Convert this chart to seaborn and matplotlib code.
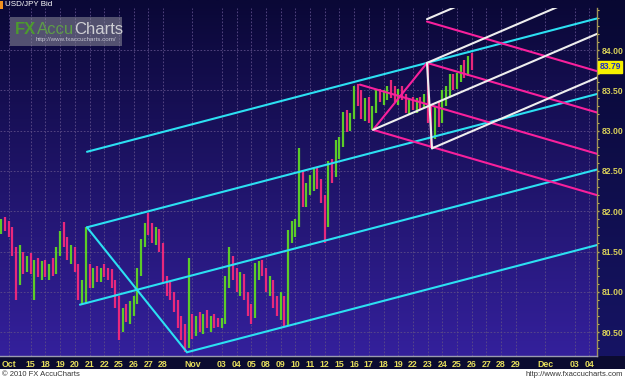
import numpy as np
import pandas as pd
import matplotlib
matplotlib.use("Agg")
import matplotlib.pyplot as plt
from matplotlib.patches import Rectangle
from matplotlib.ticker import MultipleLocator
import seaborn as sns

# ---------------- data ----------------
# 6-hour OHLC bars, first bar at day index -1 (Oct 13), 4 bars per trading day
bar_start_day = -1.0
bars_per_day = 4
opens = [81.80, 81.85, 81.78, 81.72, 81.50, 81.10, 81.38, 81.30, 81.40, 81.28,
         81.35, 81.25, 81.32, 81.22, 81.30, 81.25, 81.50, 81.70, 81.60, 81.45,
         81.52, 81.30, 81.00, 81.10, 81.30, 81.12, 81.25, 81.18, 81.28, 81.22,
         81.20, 81.10, 80.85, 80.55, 80.72, 80.68, 80.82, 80.90, 81.25, 81.60,
         81.80, 81.75, 81.65, 81.72, 81.55, 81.15, 81.05, 80.95, 80.80, 80.60,
         80.50, 80.35, 80.60, 80.50, 80.65, 80.55, 80.68, 80.60, 80.65, 80.62,
         80.60, 80.64, 81.10, 81.40, 81.20, 81.05, 81.15, 80.95, 80.75, 80.70,
         81.25, 81.30, 81.25, 81.05, 81.10, 80.85, 80.75, 80.90, 80.62, 81.65,
         81.78, 81.85, 82.45, 82.15, 82.30, 82.38, 82.45, 82.32, 82.15, 81.85,
         82.55, 82.45, 82.80, 82.85, 83.15, 83.05, 83.18, 83.45, 83.35, 83.22,
         83.35, 83.15, 83.25, 83.42, 83.40, 83.45, 83.50, 83.45, 83.40, 83.48,
         83.42, 83.28, 83.35, 83.30, 83.36, 83.32, 83.40, 83.20, 82.95, 83.20,
         83.15, 83.42, 83.48, 83.62, 83.58, 83.68, 83.75, 83.70, 83.85]
highs = [81.90, 81.93, 81.88, 81.80, 81.55, 81.58, 81.50, 81.45, 81.48, 81.40,
         81.42, 81.38, 81.40, 81.35, 81.42, 81.55, 81.75, 81.87, 81.68, 81.58,
         81.55, 81.35, 81.15, 81.80, 81.35, 81.30, 81.32, 81.30, 81.35, 81.30,
         81.28, 81.15, 80.95, 80.80, 80.85, 80.88, 80.95, 81.30, 81.65, 81.85,
         81.98, 81.85, 81.80, 81.78, 81.60, 81.20, 81.12, 81.00, 80.90, 80.70,
         80.60, 81.42, 80.72, 80.70, 80.75, 80.72, 80.78, 80.70, 80.72, 80.68,
         80.68, 81.20, 81.56, 81.45, 81.30, 81.25, 81.22, 81.00, 80.85, 81.36,
         81.38, 81.40, 81.30, 81.20, 81.15, 80.95, 81.00, 80.95, 81.77, 81.88,
         81.90, 82.78, 82.50, 82.35, 82.45, 82.52, 82.55, 82.40, 82.20, 82.62,
         82.65, 82.88, 82.92, 83.23, 83.25, 83.22, 83.55, 83.58, 83.50, 83.40,
         83.42, 83.30, 83.50, 83.52, 83.50, 83.55, 83.63, 83.55, 83.52, 83.55,
         83.45, 83.40, 83.42, 83.40, 83.42, 83.45, 83.84, 83.30, 83.30, 83.35,
         83.50, 83.55, 83.70, 83.70, 83.72, 83.82, 83.88, 83.92, 83.96]
lows = [81.72, 81.75, 81.68, 81.45, 80.90, 81.08, 81.22, 81.25, 81.22, 80.90,
        81.18, 81.15, 81.18, 81.15, 81.20, 81.22, 81.45, 81.55, 81.40, 81.35,
        81.25, 80.90, 80.84, 80.85, 81.05, 81.05, 81.12, 81.12, 81.18, 81.15,
        81.05, 80.80, 80.40, 80.50, 80.62, 80.60, 80.70, 80.85, 81.20, 81.55,
        81.70, 81.60, 81.58, 81.50, 81.10, 80.95, 80.90, 80.75, 80.55, 80.40,
        80.25, 80.30, 80.42, 80.45, 80.50, 80.48, 80.55, 80.50, 80.55, 80.56,
        80.55, 80.60, 81.05, 81.15, 81.00, 80.95, 80.90, 80.70, 80.60, 80.68,
        81.15, 81.20, 81.00, 80.95, 80.80, 80.70, 80.65, 80.56, 80.58, 81.60,
        81.68, 81.80, 82.05, 82.05, 82.20, 82.25, 82.28, 82.10, 81.61, 81.80,
        82.35, 82.42, 82.65, 82.80, 82.98, 83.00, 83.15, 83.30, 83.15, 83.12,
        83.10, 83.01, 83.22, 83.35, 83.32, 83.38, 83.40, 83.35, 83.32, 83.38,
        83.22, 83.20, 83.25, 83.22, 83.25, 83.28, 83.10, 82.78, 82.90, 83.05,
        83.10, 83.30, 83.42, 83.50, 83.52, 83.60, 83.65, 83.68, 83.75]
closes = [81.85, 81.78, 81.72, 81.50, 81.10, 81.38, 81.30, 81.40, 81.28, 81.35,
          81.25, 81.32, 81.22, 81.30, 81.25, 81.50, 81.70, 81.60, 81.45, 81.52,
          81.30, 81.00, 81.10, 81.30, 81.12, 81.25, 81.18, 81.28, 81.22, 81.20,
          81.10, 80.85, 80.55, 80.72, 80.68, 80.82, 80.90, 81.25, 81.60, 81.80,
          81.75, 81.65, 81.72, 81.55, 81.15, 81.05, 80.95, 80.80, 80.60, 80.50,
          80.35, 80.60, 80.50, 80.65, 80.55, 80.68, 80.60, 80.65, 80.62, 80.60,
          80.64, 81.10, 81.40, 81.20, 81.05, 81.15, 80.95, 80.75, 80.70, 81.25,
          81.30, 81.25, 81.05, 81.10, 80.85, 80.75, 80.90, 80.62, 81.65, 81.78,
          81.85, 82.45, 82.15, 82.30, 82.38, 82.45, 82.32, 82.15, 81.85, 82.55,
          82.45, 82.80, 82.85, 83.15, 83.05, 83.18, 83.45, 83.35, 83.22, 83.35,
          83.15, 83.25, 83.42, 83.40, 83.45, 83.50, 83.45, 83.40, 83.48, 83.42,
          83.28, 83.35, 83.30, 83.36, 83.32, 83.40, 83.20, 82.95, 83.20, 83.15,
          83.42, 83.48, 83.62, 83.58, 83.68, 83.75, 83.70, 83.85, 83.79]

# Pitchfork pivots (day index, price): P0, P1, P2
cyan_pivot_day = [4.35, 4.83, 11.63]
cyan_pivot_price = [80.84, 81.80, 80.25]
magenta_pivot_day = [23.40, 27.96, 24.29]
magenta_pivot_price = [83.57, 83.84, 83.01]
white_pivot_day = [24.29, 27.96, 28.30]
white_pivot_price = [83.01, 83.84, 82.78]

# date axis
date_labels = ['Oct', '15', '18', '19', '20', '21', '22', '25', '26', '27', '28',
               'Nov', '03', '04', '05', '08', '09', '10', '11', '12', '15', '16',
               '17', '18', '19', '22', '23', '24', '25', '26', '27', '28', '29',
               'Dec', '03', '04']
date_days = [-0.5, 1, 2, 3, 4, 5, 6, 7, 8, 9, 10,
             12, 14, 15, 16, 17, 18, 19, 20, 21, 22, 23,
             24, 25, 26, 27, 28, 29, 30, 31, 32, 33, 34,
             36, 38, 39]
price_ticks = [80.5, 81.0, 81.5, 82.0, 82.5, 83.0, 83.5, 84.0]

# ---------------- figure ----------------
W, H = 625, 380
sns.set_style("dark")
plt.rcParams['font.family'] = ['Liberation Sans', 'DejaVu Sans']

fig = plt.figure(figsize=(W / 100, H / 100), dpi=100)
fig.patch.set_facecolor('white')


def fx(px):
    return px / W


def fy(py):
    return 1 - py / H


PLOT_R, PLOT_T, PLOT_B = 597, 8, 356
PX_DAY, X0 = 14.7, 16.0
PX_PRICE = 80.6

# background gradients
bg = fig.add_axes([0, fy(PLOT_B), 1, PLOT_B / H])
bg.axis('off')
g = np.linspace(0, 1, 256)[:, None, None]
c_top = np.array([10, 8, 54]) / 255
c_bot = np.array([52, 32, 156]) / 255
bg.imshow(c_top + (c_bot - c_top) * g, extent=(0, PLOT_R, PLOT_B, 0),
          aspect='auto', interpolation='bilinear')
r_top = np.array([8, 8, 50]) / 255
r_bot = np.array([22, 20, 100]) / 255
bg.imshow(r_top + (r_bot - r_top) * g, extent=(PLOT_R, W, PLOT_B, 0),
          aspect='auto', interpolation='bilinear')
bg.set_xlim(0, W)
bg.set_ylim(PLOT_B, 0)

# bottom date strip
fig.patches.append(Rectangle((0, fy(369)), 1, (369 - PLOT_B) / H,
                             transform=fig.transFigure, facecolor='#0b0b30',
                             edgecolor='none', zorder=-5))

ax = fig.add_axes([0, fy(PLOT_B), fx(PLOT_R), (PLOT_B - PLOT_T) / H])
ax.patch.set_alpha(0)

# price bars
t = bar_start_day + np.arange(len(closes)) / bars_per_day
up = np.array(closes) >= np.array(opens)
cols = np.where(up, '#5ccc28', '#e8287c')
ax.vlines(t, lows, highs, colors=cols, lw=1.6, zorder=2)


# pitchforks
def fork(name, days, prices, x_end):
    t0, t1, t2 = days
    p0, p1, p2 = prices
    s = ((p1 + p2) / 2 - p0) / ((t1 + t2) / 2 - t0)
    med1 = p0 + s * (t1 - t0)
    pw = p1 + (p1 - med1)
    segs = {
        'median': [(t0, p0), (x_end, p0 + s * (x_end - t0))],
        'tine1': [(t1, p1), (x_end, p1 + s * (x_end - t1))],
        'tine2': [(t2, p2), (x_end, p2 + s * (x_end - t2))],
        'handle': [(t1, p1), (t2, p2)],
        'warning': [(t1, pw), (x_end, pw + s * (x_end - t1))],
    }
    rows = []
    for k, pts in segs.items():
        for (xx, yy) in pts:
            rows.append({'seg': f'{name}-{k}', 'fork': name, 't': xx, 'p': yy})
    return rows


x_left = -X0 / PX_DAY
x_right = (PLOT_R - X0) / PX_DAY
rows = (fork('cyan', cyan_pivot_day, cyan_pivot_price, x_right)
        + fork('magenta', magenta_pivot_day, magenta_pivot_price, x_right)
        + fork('white', white_pivot_day, white_pivot_price, x_right))
lines = pd.DataFrame(rows)
fork_colors = {'cyan': '#2ce0f2', 'magenta': '#f8209c', 'white': '#eeeeee'}
pal = {s: fork_colors[s.split('-')[0]] for s in lines['seg'].unique()}
sns.lineplot(data=lines, x='t', y='p', hue='seg', palette=pal, units='seg',
             estimator=None, sort=False, legend=False, lw=1.5, ax=ax, zorder=3)
ax.set_xlabel('')
ax.set_ylabel('')

y_low = 84 - (PLOT_B - 50) / PX_PRICE
y_high = 84 + (50 - PLOT_T) / PX_PRICE
ax.set_xlim(x_left, x_right)
ax.set_ylim(y_low, y_high)

# axes styling
for sp in ['top', 'left']:
    ax.spines[sp].set_visible(False)
ax.spines['right'].set_color('#a09458')
ax.spines['right'].set_linewidth(1.0)
ax.spines['bottom'].set_color('#9a9ab0')
ax.spines['bottom'].set_linewidth(1.0)

ax.set_xticks(date_days)
ax.set_xticklabels(date_labels)
ax.yaxis.tick_right()
ax.set_yticks(price_ticks)
ax.set_yticklabels([f'{v:.2f}' for v in price_ticks])
ax.yaxis.set_minor_locator(MultipleLocator(0.1))
ax.tick_params(axis='x', labelsize=6.3, labelcolor='#e4dc5c', color='#e4dc5c',
               length=1.5, width=1, pad=1.5)
ax.tick_params(axis='y', which='major', labelsize=6.2, labelcolor='#d8d05a',
               color='#c8b850', length=1.5, width=1, pad=2.0, labelright=True,
               labelleft=False)
ax.tick_params(axis='y', which='minor', color='#c8b850', length=1.5, width=0.8,
               right=True, left=False)
for lbl in ax.get_xticklabels() + ax.get_yticklabels():
    lbl.set_fontweight('bold')

ax.grid(True, which='major', color='#5c4c88', ls=(0, (2, 2)), lw=0.6)
ax.set_axisbelow(True)

# current price marker
last = closes[-1]
ax.annotate(f'{last:.2f}', xy=(1, last), xycoords=('axes fraction', 'data'),
            xytext=(1.8, 0), textcoords='offset points', ha='left', va='center',
            fontsize=6.2, fontweight='bold', color='#1a2cc8',
            bbox=dict(boxstyle='square,pad=0.15', fc='#f6f000', ec='#f6f000'),
            annotation_clip=False, zorder=6)

# title
fig.patches.append(Rectangle((0, fy(9)), fx(3), 8 / H, transform=fig.transFigure,
                             facecolor='#f09020', edgecolor='none', zorder=4))
fig.text(fx(5), fy(5), 'USD/JPY Bid', color='white', fontsize=5.8,
         ha='left', va='center', zorder=5)

# watermark
fig.patches.append(Rectangle((fx(10), fy(46)), fx(112), 29 / H,
                             transform=fig.transFigure, facecolor=(0.55, 0.55, 0.6),
                             alpha=0.55, edgecolor='none', zorder=4))
fig.text(fx(15), fy(34), 'FX', color='#4c9a2e', fontsize=12, fontweight='bold',
         ha='left', va='baseline', zorder=5)
fig.text(fx(37), fy(34), 'Accu', color='#5e9c48', fontsize=12,
         ha='left', va='baseline', zorder=5)
fig.text(fx(74), fy(34), 'Charts', color='#cfcfd4', fontsize=12,
         ha='left', va='baseline', zorder=5)
fig.text(fx(36), fy(40), 'http://www.fxaccucharts.com/', color='#c4c4d0',
         fontsize=4.5, ha='left', va='center', zorder=5)

# footer
fig.text(fx(2), fy(375), '\u00a9 2010 FX AccuCharts', color='#333333',
         fontsize=5.5, ha='left', va='center')
fig.text(fx(623), fy(375), 'http://www.fxaccucharts.com', color='#333333',
         fontsize=5.5, ha='right', va='center')

fig.savefig('out.png', dpi=100)
